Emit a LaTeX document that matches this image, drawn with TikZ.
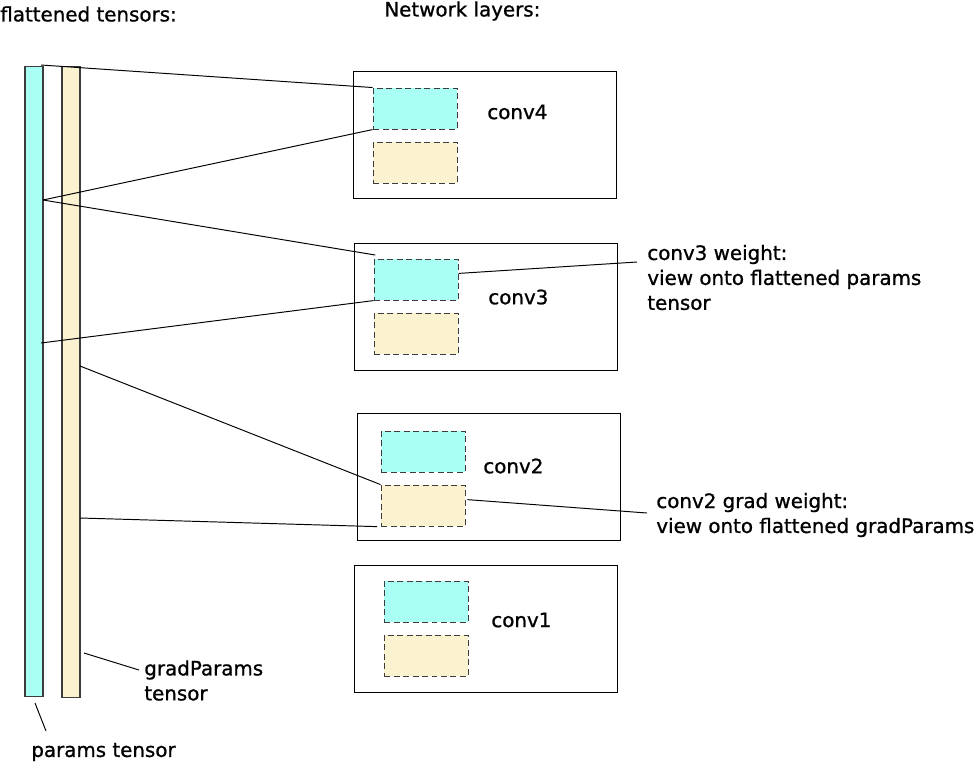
\documentclass[tikz,border=0pt]{standalone}
\usepackage{fontspec}
\setmainfont{DejaVu Sans}[UprightFeatures={FakeBold=1}]
\usetikzlibrary{positioning}

\definecolor{paramcyan}{RGB}{170,255,244}
\definecolor{gradbeige}{RGB}{251,242,208}
\definecolor{edgegray}{RGB}{60,60,60}

\begin{document}
\begin{tikzpicture}[
    x=0.02cm, y=-0.02cm,
    txt/.style={inner sep=0pt, anchor=west, align=left, font=\fontsize{11.3}{14.2}\selectfont},
    bar/.style={rectangle, draw=edgegray, line width=0.6pt, minimum width=0.36cm, inner sep=0pt},
    layer/.style={rectangle, draw, line width=0.55pt, minimum width=5.28cm, minimum height=2.54cm},
    view/.style={rectangle, draw=edgegray, line width=0.6pt, dash pattern=on 3.4pt off 2pt, minimum width=1.68cm, minimum height=0.82cm, inner sep=0pt},
    wview/.style={view, fill=paramcyan},
    gview/.style={view, fill=gradbeige},
    link/.style={line width=0.55pt}
]
\useasboundingbox (0,0) rectangle (977,762);

% titles
\node[txt] (flat_title) at (0,14) {flattened tensors:};
\node[txt] (net_title) at (384,11) {Network layers:};

% flattened tensors
\node[bar, fill=paramcyan, minimum height=12.62cm] (params) at (34,381.5) {};
\node[bar, fill=gradbeige, minimum height=12.64cm] (grads) at (71,382) {};

% network layers
\node[layer] (l4) at (485,134.5) {};
\node[wview, below right=0.34cm and 0.4cm of l4.north west] (w4) {};
\node[gview, below=0.24cm of w4] (g4) {};
\node[txt] (n4) at (487,112) {conv4};

\node[layer] (l3) at (486,306.5) {};
\node[wview, below right=0.32cm and 0.4cm of l3.north west] (w3) {};
\node[gview, below=0.24cm of w3] (g3) {};
\node[txt] (n3) at (488,297) {conv3};

\node[layer] (l2) at (489,476.5) {};
\node[wview, below right=0.36cm and 0.48cm of l2.north west] (w2) {};
\node[gview, below=0.24cm of w2] (g2) {};
\node[txt] (n2) at (483,466) {conv2};

\node[layer] (l1) at (486,628.5) {};
\node[wview, below right=0.32cm and 0.6cm of l1.north west] (w1) {};
\node[gview, below=0.24cm of w1] (g1) {};
\node[txt] (n1) at (491,620) {conv1};

% notes
\node[txt] (note3) at (647,277.5) {conv3 weight:\\view onto flattened params\\tensor};
\node[txt] (note2) at (656,515) {conv2 grad weight:\\view onto flattened gradParams};
\node[txt] (gnote) at (144,680.5) {gradParams\\tensor};
\node[txt] (pnote) at (31,752) {params tensor};

% points on the flattened tensors
\coordinate (pa) at (41,65);
\coordinate (pb) at (43,200);
\coordinate (pc) at (41,343);
\coordinate (ga) at (80,366);
\coordinate (gb) at (80,518);

\draw[link] (pa) -- (w4.north west);
\draw[link] (pb) -- (w4.south west);
\draw[link] (pb) -- ([xshift=1pt, yshift=2pt]w3.north west);
\draw[link] (pc) -- (w3.south west);
\draw[link] (ga) -- (g2.north west);
\draw[link] (gb) -- ([xshift=-2pt]g2.south west);

% callouts
\coordinate (c3) at (637,262);
\coordinate (c2) at (647,513);
\coordinate (cg) at (139,670);
\coordinate (cp) at (46,731);
\coordinate (gg) at (84,653);
\coordinate (pp) at (35,703);

\draw[link] ([yshift=3.5pt]w3.east) -- (c3);
\draw[link] ([xshift=1pt, yshift=3.4pt]g2.east) -- (c2);
\draw[link] (gg) -- (cg);
\draw[link] (pp) -- (cp);

\end{tikzpicture}
\end{document}
